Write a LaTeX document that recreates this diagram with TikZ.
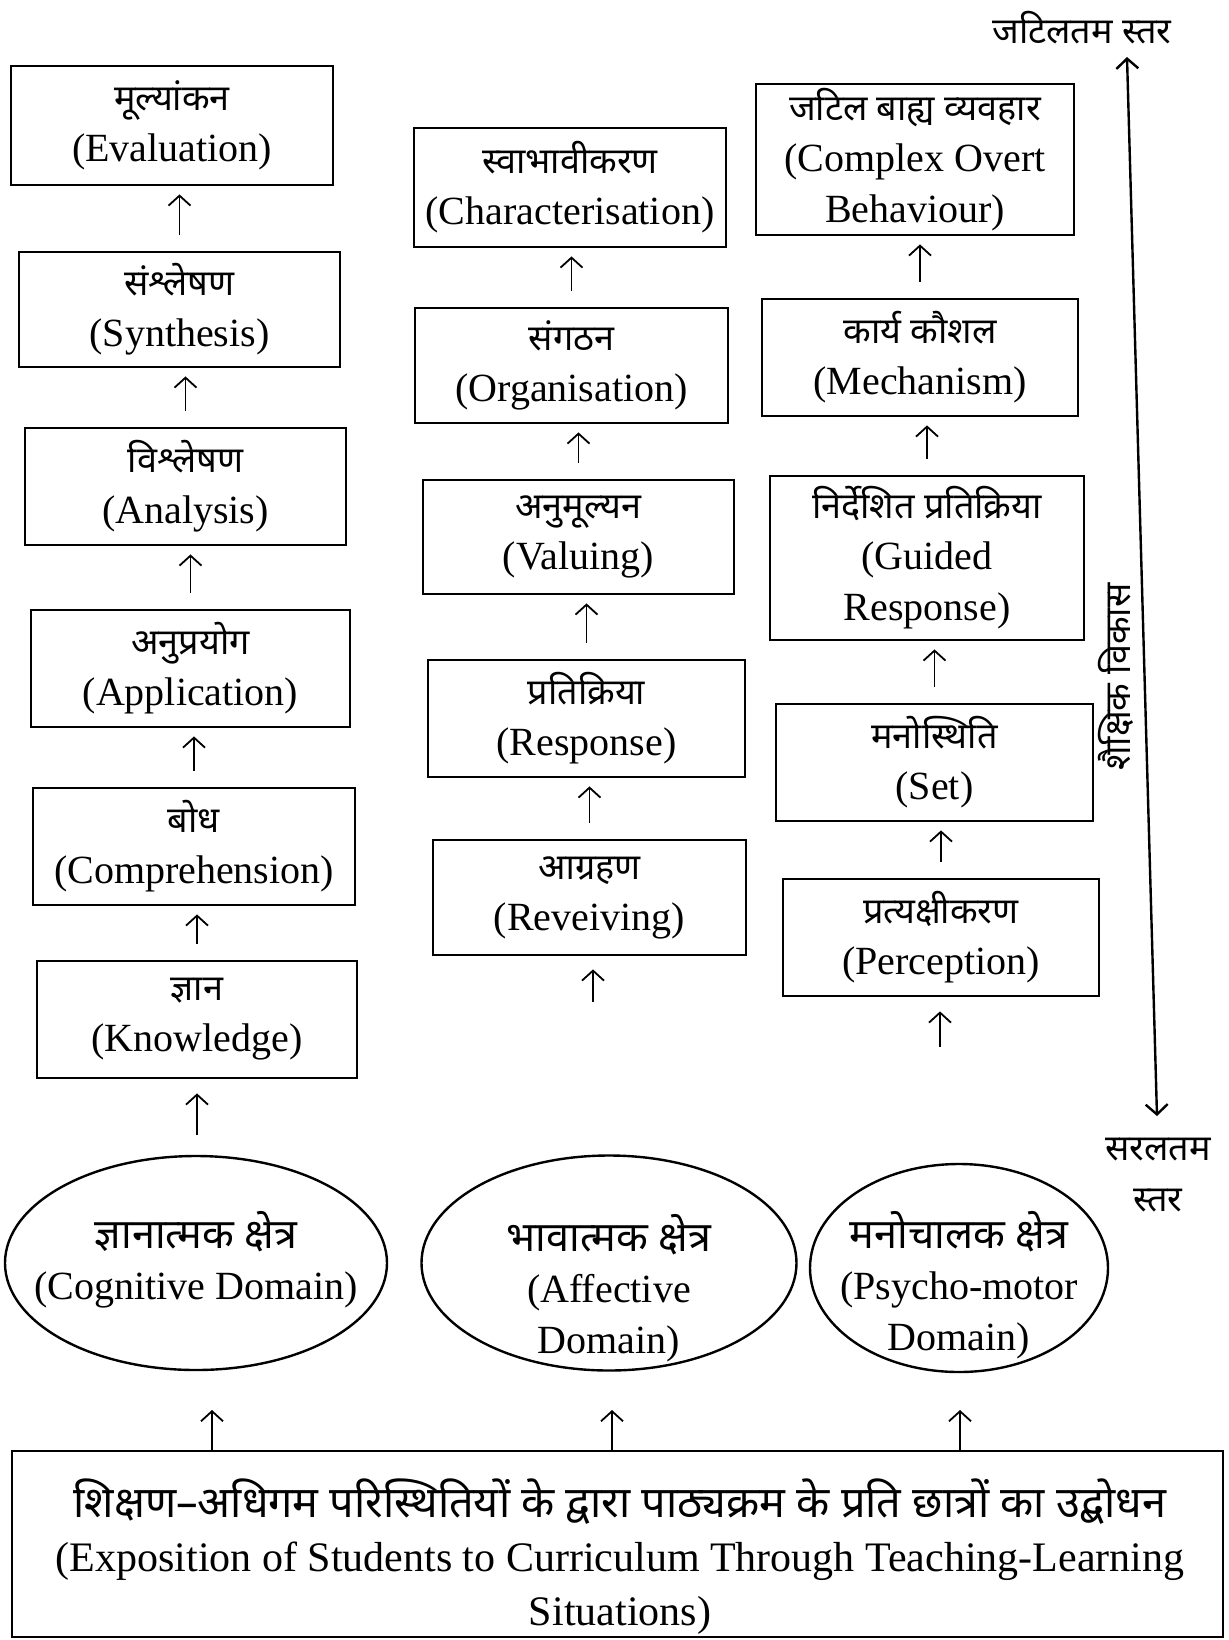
\documentclass[tikz,border=0pt]{standalone}
\usepackage{fontspec}
\setmainfont{Liberation Serif}
\newfontfamily\hi[Script=Devanagari,Scale=0.9]{Noto Sans}
\usetikzlibrary{arrows.meta,shapes.geometric}

\begin{document}
\begin{tikzpicture}[x=0.5pt,y=-0.5pt,
  txt/.style={font=\fontsize{20}{25.5}\selectfont, align=center, inner sep=0pt},
  sz/.style 2 args={minimum width=#1*0.5pt, minimum height=#2*0.5pt},
  lvl/.style={txt, draw, line width=1.4pt},
  dom/.style={draw, ellipse, line width=1.2pt, inner sep=0pt},
  up/.style={line width=0.9pt, -{Straight Barb[length=5pt,width=11pt]}, shorten >=4pt, shorten <=8pt},
]
\newcommand\hb[1]{{\fontsize{23}{25.5}\selectfont\hi\bfseries #1}}
\useasboundingbox (0,0) rectangle (1228,1640);

% ---- cognitive domain levels ----
\node[lvl, sz={322}{119}] (eval)  at (172,125.5)   {{\hi मूल्यांकन}\\(Evaluation)};
\node[lvl, sz={321}{115}] (synth) at (179.5,309.5) {{\hi संश्लेषण}\\(Synthesis)};
\node[lvl, sz={321}{117}] (anal)  at (185.5,486.5) {{\hi विश्लेषण}\\(Analysis)};
\node[lvl, sz={319}{117}] (appl)  at (190.5,668.5) {{\hi अनुप्रयोग}\\(Application)};
\node[lvl, sz={322}{117}] (comp)  at (194,846.5)   {{\hi बोध}\\(Comprehension)};
\node[lvl, sz={320}{117}] (know)  at (197,1019.5)  {{\hi ज्ञान}\\(Knowledge)};

% ---- affective domain levels ----
\node[lvl, sz={312}{119}] (char) at (570,187.5)   {{\hi स्वाभावीकरण}\\(Characterisation)};
\node[lvl, sz={313}{115}] (org)  at (571.5,365.5) {{\hi संगठन}\\(Organisation)};
\node[lvl, sz={311}{114}] (val)  at (578.5,537)   {{\hi अनुमूल्यन}\\(Valuing)};
\node[lvl, sz={317}{117}] (resp) at (586.5,718.5) {{\hi प्रतिक्रिया}\\(Response)};
\node[lvl, sz={313}{115}] (recv) at (589.5,897.5) {{\hi आग्रहण}\\(Reveiving)};

% ---- psycho-motor domain levels ----
\node[lvl, sz={318}{151}] (cob)  at (915,159.5)   {{\hi जटिल बाह्य व्यवहार}\\(Complex Overt\\Behaviour)};
\node[lvl, sz={316}{117}] (mech) at (920,357.5)   {{\hi कार्य कौशल}\\(Mechanism)};
\node[lvl, sz={314}{164}] (guid) at (927,558)     {{\hi निर्देशित प्रतिक्रिया}\\(Guided\\Response)};
\node[lvl, sz={317}{117}] (set)  at (934.5,762.5) {{\hi मनोस्थिति}\\(Set)};
\node[lvl, sz={316}{117}] (perc) at (941,937.5)   {{\hi प्रत्यक्षीकरण}\\(Perception)};

% ---- upward steps ----
\foreach \lo/\hiB in {synth/eval, anal/synth, appl/anal, comp/appl, know/comp,
                      org/char, val/org, resp/val, recv/resp,
                      mech/cob, guid/mech, set/guid, perc/set}
  \draw[up] (\lo.north) -- (\lo.north |- \hiB.south);

\coordinate (k0) at (197,1135);
\coordinate (r0) at (593,1002);
\coordinate (p0) at (940,1047);
\draw[up, shorten <=0pt, shorten >=7pt] (k0) -- (k0 |- know.south);
\draw[up, shorten <=0pt, shorten >=6.5pt] (r0) -- (r0 |- recv.south);
\draw[up, shorten <=0pt, shorten >=7pt] (p0) -- (p0 |- perc.south);

% ---- the three domains ----
\node[dom, minimum width=191pt, minimum height=107pt] (cog) at (196,1263) {};
\node[dom, minimum width=187.5pt, minimum height=107.5pt] (aff) at (609,1263) {};
\node[dom, minimum width=149pt, minimum height=104pt] (psy) at (959,1268) {};
\node[txt] (cogt) at (196,1260) {\hb{ज्ञानात्मक क्षेत्र}\\(Cognitive Domain)};
\node[txt] (afft) at (609,1288) {\hb{भावात्मक क्षेत्र}\\(Affective\\Domain)};
\node[txt] (psyt) at (959,1285) {\hb{मनोचालक क्षेत्र}\\(Psycho-motor\\Domain)};

% ---- teaching-learning situations ----
\node[lvl, sz={1211}{186}] (expo) at (617.5,1544) {};
\node[txt, font=\fontsize{21}{27}\selectfont] (expot) at (620,1557)
  {{\fontsize{24}{27}\selectfont\hi\bfseries शिक्षण–अधिगम परिस्थितियों के द्वारा पाठ्यक्रम के प्रति छात्रों का उद्बोधन}\\
   (Exposition of Students to Curriculum Through Teaching-Learning\\Situations)};

\coordinate (a1) at (212,1410);
\coordinate (a2) at (612,1410);
\coordinate (a3) at (960,1410);
\foreach \c in {a1,a2,a3}
  \draw[up, shorten <=0pt, shorten >=0pt] (\c |- expo.north) -- (\c);

% ---- scale of educational development ----
\node[txt] (hard) at (1082,28) {\hi जटिलतम स्तर};
\node[txt] (easy) at (1158,1175) {{\hi सरलतम}\\{\hi स्तर}};
\node[txt, rotate=90] (grow) at (1116,677) {\hi शैक्षिक विकास};
\coordinate (vtop) at (1127,57);
\coordinate (vbot) at (1157,1116);
\draw[line width=1.2pt, {Straight Barb[length=5pt,width=11pt]}-{Straight Barb[length=5pt,width=11pt]}] (vbot) -- (vtop);

\end{tikzpicture}
\end{document}
